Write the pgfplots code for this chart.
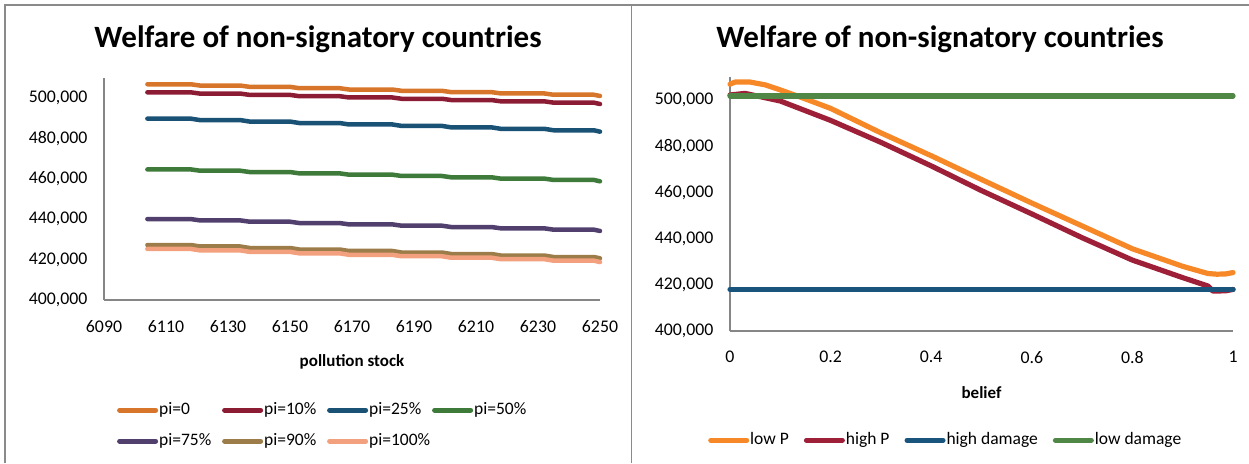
\documentclass[border=0pt]{standalone}
\usepackage{fontspec}
\setmainfont{Carlito}
\usepackage{pgfplots}
\usepackage{pgfplotstable}
\pgfplotsset{compat=1.18}

\definecolor{framegray}{RGB}{138,138,138}
\definecolor{axisgray}{RGB}{134,134,134}
\definecolor{cpi0}{RGB}{215,118,42}
\definecolor{cpi10}{RGB}{140,27,52}
\definecolor{cpi25}{RGB}{26,82,117}
\definecolor{cpi50}{RGB}{62,122,58}
\definecolor{cpi75}{RGB}{81,63,110}
\definecolor{cpi90}{RGB}{156,124,72}
\definecolor{cpi100}{RGB}{242,160,125}
\definecolor{clowP}{RGB}{247,136,40}
\definecolor{chighP}{RGB}{158,32,56}
\definecolor{chighD}{RGB}{24,84,124}
\definecolor{clowD}{RGB}{80,135,70}

% welfare against the pollution stock, one column per pi
\pgfplotstableread{
x    p0     p10    p25    p50    p75    p90    p100
6104 506900 502900 489850 464700 440100 427250 425300
6118 506900 502900 489850 464700 440100 427250 425300
6121 506250 502260 489130 464050 439440 426510 424580
6134 506250 502260 489130 464050 439440 426510 424580
6137 505600 501630 488410 463400 438790 425760 423850
6150 505600 501630 488410 463400 438790 425760 423850
6153 504950 500990 487690 462750 438130 425020 423130
6166 504950 500990 487690 462750 438130 425020 423130
6169 504300 500350 486980 462100 437480 424280 422400
6183 504300 500350 486980 462100 437480 424280 422400
6186 503650 499710 486260 461450 436820 423530 421680
6199 503650 499710 486260 461450 436820 423530 421680
6202 503000 499080 485540 460800 436160 422790 420950
6215 503000 499080 485540 460800 436160 422790 420950
6218 502350 498440 484820 460150 435510 422040 420230
6232 502350 498440 484820 460150 435510 422040 420230
6235 501700 497800 484100 459500 434850 421300 419500
6248 501700 497800 484100 459500 434850 421300 419500
6250 501100 497100 483400 458800 434200 420650 418800
}\stocktable

% welfare against the belief
\pgfplotstableread{
b     w
0     506900
0.01  507800
0.04  507800
0.07  506600
0.1   504400
0.15  500500
0.2   496400
0.3   485800
0.4   475900
0.5   465600
0.6   455400
0.7   445500
0.8   435600
0.9   428000
0.95  424900
0.968 424600
0.985 424700
1     425300
}\lowPtable

\pgfplotstableread{
b     w
0     502200
0.03  502900
0.1   499600
0.2   491200
0.3   481700
0.4   471500
0.5   460800
0.6   450700
0.7   440400
0.8   430700
0.9   423100
0.95  419500
0.96  417300
0.985 417400
1     418000
}\highPtable

\pgfplotstableread{
b w
0 418000
1 418000
}\highDtable

\pgfplotstableread{
b w
0 501800
1 501800
}\lowDtable

\pgfplotsset{
  welfare/.style={
    scale only axis,
    clip=false,
    axis x line=bottom,
    axis y line=left,
    axis line style={-, axisgray, line width=1.6pt},
    major tick length=0pt,
    ymin=400000, ymax=510000,
    ytick={400000,420000,440000,460000,480000,500000},
    scaled y ticks=false,
    scaled x ticks=false,
    /pgf/number format/assume math mode=true,
    tick label style={font=\fontsize{17.8}{20}\selectfont, text=black},
    yticklabel style={/pgf/number format/.cd, fixed, precision=0, 1000 sep={,}, /tikz/.cd, xshift=-13pt},
    xticklabel style={yshift=-16.5pt},
    every axis x label/.style={at={(axis description cs:0.5,0)}, anchor=center,
      yshift=-62pt, font=\fontsize{17}{20}\selectfont\bfseries},
    legend cell align=left,
    legend style={draw=none, fill=none, inner sep=0pt,
      font=\fontsize{17.5}{20}\selectfont,
      nodes={inner sep=1pt, text height=12pt, text depth=4pt},
      row sep=13pt},
    legend image code/.code={\draw[#1, line width=5pt, line cap=round] (0pt,0pt) -- (36pt,0pt);},
    every axis plot/.append style={line cap=round, line join=round},
  }
}

\newcommand{\lbl}[1]{\makebox[62pt][l]{#1}}

\begin{document}
\begin{tikzpicture}[x=1pt,y=1pt]
\useasboundingbox (0,0) rectangle (1249,463);
\draw[framegray, line width=1.6pt] (5,0) -- (5,458) -- (1249,458);
\draw[framegray, line width=1.6pt] (631.5,0) -- (631.5,458);

\node[anchor=base, font=\fontsize{31}{35}\selectfont\bfseries] at (318,415) {Welfare of non-signatory countries};
\node[anchor=base, font=\fontsize{31}{35}\selectfont\bfseries] at (940,415) {Welfare of non-signatory countries};

\begin{axis}[welfare,
  at={(104pt,163pt)}, anchor=south west,
  width=496pt, height=222pt,
  xmin=6090, xmax=6250,
  xtick={6090,6110,6130,6150,6170,6190,6210,6230,6250},
  xticklabel style={/pgf/number format/.cd, fixed, precision=0, 1000 sep={}},
  xlabel={pollution stock},
  legend columns=4,
  legend style={at={(axis description cs:0.026,-0.455)}, anchor=north west},
]
\addplot[cpi0,   line width=4.5pt] table[x=x, y=p0]   {\stocktable};
\addlegendentry{\lbl{pi=0}}
\addplot[cpi10,  line width=4.5pt] table[x=x, y=p10]  {\stocktable};
\addlegendentry{\lbl{pi=10\%}}
\addplot[cpi25,  line width=4.5pt] table[x=x, y=p25]  {\stocktable};
\addlegendentry{\lbl{pi=25\%}}
\addplot[cpi50,  line width=4.5pt] table[x=x, y=p50]  {\stocktable};
\addlegendentry{\lbl{pi=50\%}}
\addplot[cpi75,  line width=4.5pt] table[x=x, y=p75]  {\stocktable};
\addlegendentry{\lbl{pi=75\%}}
\addplot[cpi90,  line width=4.5pt] table[x=x, y=p90]  {\stocktable};
\addlegendentry{\lbl{pi=90\%}}
\addplot[cpi100, line width=4.5pt] table[x=x, y=p100] {\stocktable};
\addlegendentry{\lbl{pi=100\%}}
\end{axis}

\begin{axis}[welfare,
  at={(730pt,132pt)}, anchor=south west,
  width=503pt, height=254pt,
  xmin=0, xmax=1,
  xtick={0,0.2,0.4,0.6,0.8,1},
  xticklabels={0,0.2,0.4,0.6,0.8,1},
  xlabel={belief},
  legend columns=4,
  legend style={at={(axis description cs:-0.0437,-0.394)}, anchor=north west,
    /tikz/every even column/.append style={column sep=14pt}},
]
\addplot[clowP,  line width=5.2pt] table[x=b, y=w] {\lowPtable};
\addlegendentry{low P}
\addplot[chighP, line width=5.2pt] table[x=b, y=w] {\highPtable};
\addlegendentry{high P}
\addplot[chighD, line width=5.2pt] table[x=b, y=w] {\highDtable};
\addlegendentry{high damage}
\addplot[clowD,  line width=5.2pt] table[x=b, y=w] {\lowDtable};
\addlegendentry{low damage}
\end{axis}
\end{tikzpicture}
\end{document}
